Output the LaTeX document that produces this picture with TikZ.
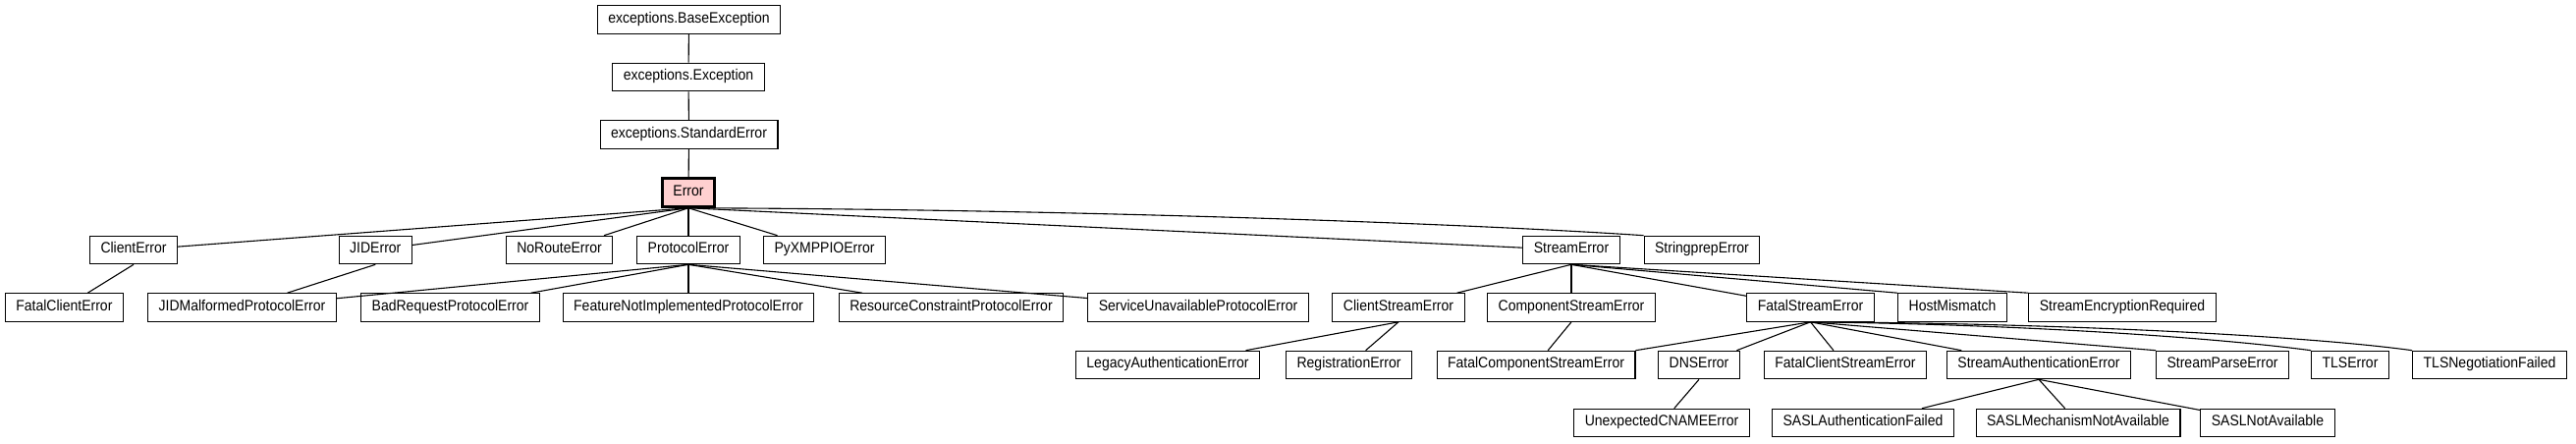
\documentclass[tikz,border=0pt]{standalone}
\usepackage{fontspec}
\setmainfont{Liberation Sans}[FakeStretch=0.91]
\definecolor{errfill}{RGB}{255,208,208}
\begin{document}
\begin{tikzpicture}[x=1pt,y=-1pt,
  box/.style={draw, line width=1.1pt, inner xsep=11pt, inner ysep=0pt,
    minimum height=28.5pt, text height=9.5pt, text depth=3.5pt,
    font=\fontsize{15.4}{16}\selectfont},
  mainbox/.style={box, fill=errfill, line width=3pt},
  lnk/.style={line width=1.1pt}]
\useasboundingbox[fill=white] (0,0) rectangle (2623,451);
% rows
\node[box] (be) at (701.5,20) {exceptions.BaseException};
\node[box] (ex) at (701,78.5) {exceptions.Exception};
\node[box] (se) at (701.5,137) {exceptions.StandardError};
\node[mainbox] (err) at (701,196) {Error};
\node[box] (ce) at (136,254.5) {ClientError};
\node[box] (jid) at (382.3,254.5) {JIDError};
\node[box] (nre) at (569.5,254.5) {NoRouteError};
\node[box] (pe) at (701,254.5) {ProtocolError};
\node[box] (pyio) at (839.5,254.5) {PyXMPPIOError};
\node[box] (ste) at (1600,254.5) {StreamError};
\node[box] (spe) at (1733,254.5) {StringprepError};
\node[box] (fce) at (65.4,313) {FatalClientError};
\node[box] (jidm) at (246.5,313) {JIDMalformedProtocolError};
\node[box] (brp) at (458.5,313) {BadRequestProtocolError};
\node[box] (fni) at (701,313) {FeatureNotImplementedProtocolError};
\node[box] (rcp) at (968.5,313) {ResourceConstraintProtocolError};
\node[box] (sup) at (1220,313) {ServiceUnavailableProtocolError};
\node[box] (cse) at (1424,313) {ClientStreamError};
\node[box] (comp) at (1600,313) {ComponentStreamError};
\node[box] (fse) at (1843.5,313) {FatalStreamError};
\node[box] (hm) at (1988,313) {HostMismatch};
\node[box] (ser) at (2161,313) {StreamEncryptionRequired};
\node[box] (lae) at (1189,371.5) {LegacyAuthenticationError};
\node[box] (re) at (1373.5,371.5) {RegistrationError};
\node[box] (fcomp) at (1564,371.5) {FatalComponentStreamError};
\node[box] (dns) at (1730,371.5) {DNSError};
\node[box] (fcse) at (1879,371.5) {FatalClientStreamError};
\node[box] (sae) at (2076,371.5) {StreamAuthenticationError};
\node[box] (spar) at (2263,371.5) {StreamParseError};
\node[box] (tls) at (2393,371.5) {TLSError};
\node[box] (tlsn) at (2535,371.5) {TLSNegotiationFailed};
\node[box] (ucn) at (1692,430.5) {UnexpectedCNAMEError};
\node[box] (saf) at (1897,430.5) {SASLAuthenticationFailed};
\node[box] (smna) at (2116,430.5) {SASLMechanismNotAvailable};
\node[box] (sna) at (2309,430.5) {SASLNotAvailable};
% edges
\draw[lnk] (be) -- (ex);
\draw[lnk] (ex) -- (se);
\draw[lnk] (se) -- (err);
\draw[lnk] (err.south) -- (ce);
\draw[lnk] (err.south) -- (jid);
\draw[lnk] (err.south) -- (nre);
\draw[lnk] (err.south) -- (pe);
\draw[lnk] (err.south) -- (pyio);
\draw[lnk] (err.south) -- (ste);
\draw[lnk] (err.south) .. controls (1100,213) and (1500,228) .. (spe.north west);
\draw[lnk] (ce.south) -- (fce);
\draw[lnk] (jid.south) -- (jidm);
\draw[lnk] (pe.south) -- (jidm);
\draw[lnk] (pe.south) -- (brp);
\draw[lnk] (pe.south) -- (fni);
\draw[lnk] (pe.south) -- (rcp);
\draw[lnk] (pe.south) -- (sup);
\draw[lnk] (ste.south) -- (cse);
\draw[lnk] (ste.south) -- (comp);
\draw[lnk] (ste.south) -- (fse);
\draw[lnk] (ste.south) -- (hm.north west);
\draw[lnk] (ste.south) -- (ser.north west);
\draw[lnk] (cse.south) -- (lae);
\draw[lnk] (cse.south) -- (re);
\draw[lnk] (comp.south) -- (fcomp);
\draw[lnk] (fse.south) -- (fcomp.north east);
\draw[lnk] (fse.south) -- (dns);
\draw[lnk] (fse.south) -- (fcse);
\draw[lnk] (fse.south) -- (sae);
\draw[lnk] (fse.south) -- (spar.north west);
\draw[lnk] (fse.south) .. controls (2050,330) and (2250,343) .. (tls.north west);
\draw[lnk] (fse.south) .. controls (2100,329) and (2350,342) .. (tlsn.north west);
\draw[lnk] (dns.south) -- (ucn);
\draw[lnk] (sae.south) -- (saf);
\draw[lnk] (sae.south) -- (smna);
\draw[lnk] (sae.south) -- (sna);
\end{tikzpicture}
\end{document}
